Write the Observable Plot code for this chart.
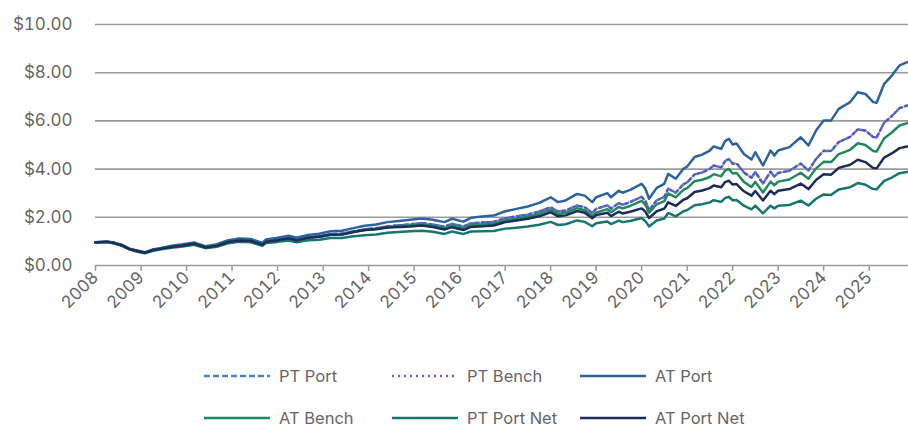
<!DOCTYPE html>
<html><head><meta charset="utf-8">
<script src="https://cdn.jsdelivr.net/npm/d3@7"></script>
<script src="https://cdn.jsdelivr.net/npm/@observablehq/plot@0.6"></script>
<style>
body{margin:0;background:#fff;}
#wrap{position:relative;width:908px;height:429px;overflow:hidden;}
#legend{position:absolute;left:0;top:0;pointer-events:none;}
</style></head><body><div id="wrap"><div id="chart"></div><svg id="legend" width="908" height="429"></svg></div>
<script>
const dates = ["2008-01","2008-04","2008-06","2008-08","2008-10","2008-12","2009-02","2009-04","2009-06","2009-09",
"2009-12","2010-03","2010-06","2010-09","2010-12","2011-03","2011-06","2011-09","2011-10","2012-01",
"2012-04","2012-06","2012-09","2012-12","2013-03","2013-06","2013-09","2013-12","2014-03","2014-06",
"2014-09","2014-12","2015-03","2015-06","2015-09","2015-11","2016-02","2016-04","2016-07","2016-10",
"2017-01","2017-04","2017-07","2017-10","2018-01","2018-03","2018-05","2018-08","2018-10","2018-12",
"2019-01","2019-04","2019-05","2019-07","2019-08","2019-10","2020-01","2020-02","2020-03","2020-05",
"2020-07","2020-08","2020-10","2020-12","2021-01","2021-03","2021-05","2021-07","2021-08","2021-10",
"2021-11","2021-12","2022-01","2022-02","2022-04","2022-06","2022-07","2022-09","2022-11","2022-12",
"2023-01","2023-04","2023-07","2023-09","2023-11","2024-01","2024-03","2024-05","2024-08","2024-10",
"2024-12","2025-02","2025-03","2025-05","2025-07","2025-09","2025-11"];

const ptPort = [0.96,0.99,0.93,0.84,0.68,0.60,0.53,0.64,0.69,0.79,
0.84,0.92,0.76,0.84,1.00,1.06,1.04,0.89,1.02,1.08,
1.16,1.08,1.18,1.21,1.31,1.32,1.42,1.50,1.55,1.63,
1.67,1.71,1.76,1.70,1.61,1.73,1.62,1.75,1.79,1.81,
1.96,2.04,2.11,2.24,2.42,2.24,2.28,2.49,2.42,2.18,
2.35,2.50,2.36,2.59,2.52,2.63,2.85,2.67,2.30,2.70,
2.85,3.19,3.02,3.37,3.45,3.78,3.86,4.01,4.15,4.07,
4.33,4.42,4.22,4.24,3.86,3.64,3.88,3.40,3.89,3.69,
3.84,3.93,4.23,3.94,4.42,4.76,4.75,5.12,5.34,5.65,
5.60,5.33,5.31,5.93,6.20,6.53,6.64];

const ptBench = [0.96,0.99,0.93,0.84,0.68,0.60,0.53,0.64,0.69,0.79,
0.84,0.92,0.76,0.84,1.00,1.06,1.04,0.89,1.02,1.08,
1.16,1.08,1.18,1.21,1.31,1.32,1.42,1.50,1.55,1.63,
1.67,1.71,1.76,1.70,1.61,1.73,1.62,1.75,1.79,1.81,
1.96,2.04,2.11,2.24,2.42,2.24,2.28,2.49,2.42,2.18,
2.35,2.50,2.36,2.59,2.52,2.63,2.85,2.67,2.30,2.70,
2.85,3.19,3.02,3.37,3.45,3.78,3.86,4.01,4.15,4.07,
4.33,4.42,4.22,4.24,3.86,3.64,3.88,3.40,3.89,3.69,
3.84,3.93,4.23,3.94,4.42,4.76,4.75,5.12,5.34,5.65,
5.60,5.33,5.31,5.93,6.20,6.53,6.64];

const atPort = [0.97,1.00,0.95,0.86,0.70,0.62,0.55,0.66,0.72,0.82,
0.88,0.96,0.80,0.88,1.05,1.12,1.10,0.94,1.08,1.15,
1.24,1.15,1.27,1.32,1.42,1.44,1.55,1.65,1.70,1.80,
1.85,1.90,1.95,1.90,1.80,1.94,1.82,1.98,2.03,2.07,
2.25,2.35,2.45,2.60,2.83,2.63,2.70,2.97,2.90,2.63,
2.83,3.00,2.83,3.10,3.02,3.14,3.39,3.18,2.77,3.22,
3.39,3.80,3.60,4.01,4.11,4.50,4.60,4.77,4.94,4.84,
5.16,5.26,5.02,5.06,4.63,4.40,4.70,4.15,4.77,4.56,
4.77,4.91,5.32,4.98,5.60,6.02,6.02,6.50,6.78,7.19,
7.12,6.78,6.75,7.54,7.88,8.30,8.44];

const atBench = [0.95,0.98,0.92,0.83,0.68,0.60,0.53,0.63,0.69,0.78,
0.84,0.91,0.76,0.83,0.99,1.05,1.03,0.87,1.00,1.06,
1.13,1.05,1.16,1.19,1.28,1.29,1.39,1.47,1.51,1.59,
1.63,1.66,1.70,1.64,1.55,1.66,1.55,1.67,1.71,1.73,
1.87,1.95,2.02,2.14,2.32,2.14,2.19,2.38,2.29,2.04,
2.19,2.34,2.21,2.43,2.37,2.47,2.68,2.51,2.19,2.54,
2.67,2.99,2.83,3.14,3.21,3.50,3.56,3.67,3.79,3.70,
3.94,4.01,3.82,3.84,3.47,3.26,3.47,3.03,3.48,3.33,
3.48,3.57,3.85,3.60,4.03,4.30,4.29,4.62,4.80,5.07,
5.00,4.75,4.73,5.28,5.52,5.81,5.91];

const ptPortNet = [0.95,0.97,0.91,0.82,0.66,0.57,0.51,0.60,0.66,0.74,
0.79,0.86,0.72,0.78,0.92,0.99,0.96,0.82,0.93,0.98,
1.04,0.96,1.05,1.07,1.14,1.14,1.21,1.26,1.29,1.36,
1.39,1.42,1.44,1.40,1.31,1.41,1.31,1.41,1.42,1.43,
1.53,1.57,1.62,1.69,1.81,1.68,1.71,1.87,1.81,1.63,
1.75,1.83,1.72,1.86,1.80,1.85,1.97,1.84,1.62,1.87,
1.95,2.18,2.04,2.25,2.30,2.50,2.54,2.62,2.71,2.64,
2.80,2.85,2.71,2.72,2.48,2.33,2.48,2.16,2.48,2.37,
2.48,2.51,2.69,2.49,2.77,2.95,2.93,3.15,3.25,3.42,
3.35,3.17,3.16,3.51,3.65,3.83,3.88];

const atPortNet = [0.96,0.98,0.93,0.83,0.68,0.60,0.53,0.63,0.69,0.77,
0.83,0.90,0.75,0.82,0.98,1.04,1.02,0.86,0.99,1.05,
1.13,1.04,1.15,1.19,1.28,1.29,1.39,1.47,1.50,1.58,
1.60,1.62,1.66,1.60,1.49,1.59,1.47,1.60,1.63,1.66,
1.80,1.87,1.94,2.04,2.21,2.04,2.08,2.26,2.19,1.96,
2.09,2.19,2.05,2.23,2.16,2.23,2.37,2.23,1.97,2.25,
2.36,2.62,2.47,2.73,2.79,3.05,3.11,3.21,3.32,3.25,
3.46,3.52,3.36,3.38,3.08,2.90,3.09,2.70,3.10,2.96,
3.10,3.17,3.40,3.17,3.55,3.79,3.77,4.05,4.18,4.39,
4.29,4.05,4.03,4.48,4.65,4.87,4.94];

const seriesNames = ["PT Port","PT Bench","AT Port","AT Bench","PT Port Net","AT Port Net"];
const yTicks = [0,2,4,6,8,10];
const yearLabels = [2008,2009,2010,2011,2012,2013,2014,2015,2016,2017,2018,2019,2020,2021,2022,2023,2024,2025];

const styles = {
  "PT Port":     {color:"#4a82c6", dash:"6,3", width:2.5},
  "PT Bench":    {color:"#6a4fbf", dash:"1.8,4.2", width:2.2},
  "AT Port":     {color:"#2d639e", dash:null, width:2.5},
  "AT Bench":    {color:"#1f8a5b", dash:null, width:2.5},
  "PT Port Net": {color:"#17766f", dash:null, width:2.5},
  "AT Port Net": {color:"#1c2d5c", dash:null, width:2.5}
};
const valuesBy = {"PT Port":ptPort,"PT Bench":ptBench,"AT Port":atPort,"AT Bench":atBench,"PT Port Net":ptPortNet,"AT Port Net":atPortNet};

const parse = d3.utcParse("%Y-%m");
const rows = seriesNames.flatMap(name => dates.map((d,i)=>({date:parse(d), value:valuesBy[name][i], series:name})));
const yearDates = yearLabels.map(y => new Date(Date.UTC(y,0,1)));

const FONT = "Inter, Lato, 'DejaVu Sans', sans-serif";

const chart = Plot.plot({
  width:908, height:345,
  marginLeft:95, marginRight:0, marginTop:24, marginBottom:80,
  style:{fontFamily:FONT, fontSize:"17px", background:"transparent", overflow:"visible"},
  x:{type:"utc", label:null, domain:[parse("2008-01"), new Date(Date.UTC(2025,10,12))]},
  y:{domain:[0,10], label:null},
  marks:[
    Plot.ruleY(yTicks, {stroke:"#9b9b9b", strokeWidth:1.6}),
    ...seriesNames.map(name => Plot.line(rows.filter(r => r.series === name), {
      x:"date", y:"value", stroke:styles[name].color, strokeWidth:styles[name].width,
      strokeDasharray:styles[name].dash || undefined, strokeLinejoin:"round"
    })),
    Plot.axisY({ticks:yTicks, tickSize:0, tickPadding:23, tickFormat:d => "$" + d.toFixed(2), fill:"#666", fontSize:17, label:null}),
    Plot.axisX({ticks:yearDates, tickFormat:d3.utcFormat("%Y"), tickRotate:-45, tickSize:6, tickPadding:3, stroke:"#9b9b9b", strokeWidth:1.5, fill:"#666", fontSize:17, label:null})
  ]
});
document.getElementById("chart").appendChild(chart);

// legend
const legend = d3.select("#legend");
const colX = [204, 392, 580];
const rowY = [376, 418];
seriesNames.forEach((name, i) => {
  const x = colX[i % 3], y = rowY[Math.floor(i / 3)];
  legend.append("line").attr("x1", x).attr("x2", x + 66).attr("y1", y).attr("y2", y)
    .attr("stroke", styles[name].color).attr("stroke-width", 2.5)
    .attr("stroke-dasharray", styles[name].dash);
  legend.append("text").attr("x", x + 75).attr("y", y).attr("dy", "0.35em")
    .attr("fill", "#666").attr("font-family", FONT).attr("font-size", 16.5).text(name);
});
</script></body></html>
